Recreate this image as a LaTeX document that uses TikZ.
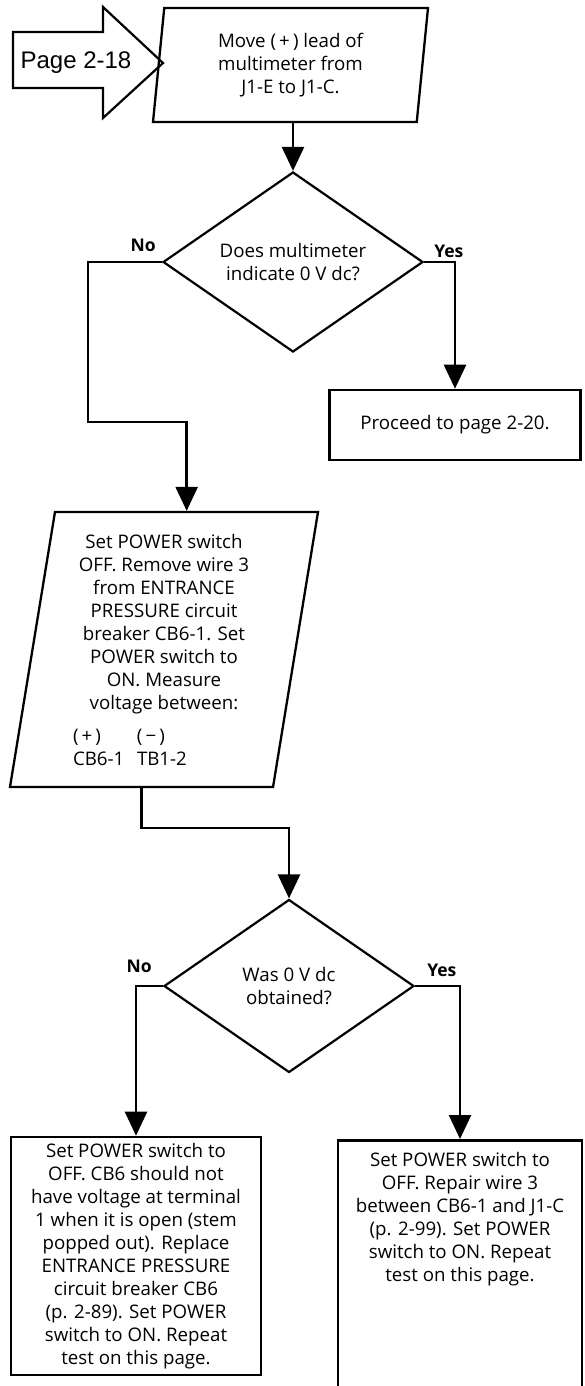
\documentclass[tikz,border=0pt]{standalone}
\usepackage{fontspec}
\setmainfont{Open Sans}
\newfontfamily\pagefont{Liberation Sans}
\usetikzlibrary{arrows.meta, positioning, shapes.geometric}

\tikzset{
  flow/.style={line width=2.6pt, -{Triangle[length=24pt,width=22pt]}},
  textfont/.style={font=\fontsize{18.7}{23}\selectfont},
  stepbox/.style={draw, line width=2.6pt, align=center, inner sep=0pt, textfont},
  slanted/.style={draw, trapezium, trapezium stretches body, line width=2.3pt, align=center, inner sep=0pt, textfont},
  query/.style={draw, diamond, aspect=1.44, line width=2.2pt, align=center, inner sep=0pt, textfont},
  answer/.style={inner sep=0pt, font=\bfseries\fontsize{17.5}{20}\selectfont},
}

\begin{document}
\begin{tikzpicture}[x=1pt, y=-1pt]
  \useasboundingbox (0,0) rectangle (584,1386);
  % arrow coming in from the previous page
  \draw[line width=2.2pt] (13,32) -- (103,32) -- (103,7) -- (163,63) -- (103,118) -- (103,88) -- (13,88) -- cycle;
  \node[font=\pagefont\fontsize{24}{28}\selectfont, inner sep=0pt] (from) at (76,63) {Page 2-18};

  \node[slanted, trapezium left angle=80, trapezium right angle=100, minimum width=275pt, minimum height=114pt] (move) at (290.5,65)
    {Move (\,+\,) lead of\\multimeter from\\J1-E to J1-C.};
  \node[query, minimum width=260pt, minimum height=180pt] (ask1) at (293,262)
    {Does multimeter\\indicate 0 V dc?};
  \node[stepbox, minimum width=251pt, minimum height=70pt] (proceed) at (455,425)
    {Proceed to page 2-20.};
  \node[slanted, trapezium left angle=79, trapezium right angle=101, minimum width=308pt, minimum height=275pt] (check) at (164,649.5)
    {Set POWER switch\\OFF. Remove wire 3\\from ENTRANCE\\PRESSURE circuit\\breaker CB6-1. Set\\POWER switch to\\ON. Measure\\voltage between:\\[10pt]
     \hspace*{-68pt}\makebox[114pt][l]{\makebox[64pt][l]{(\,+\,)}(\,−\,)}\\
     \hspace*{-68pt}\makebox[114pt][l]{\makebox[64pt][l]{CB6-1}TB1-2}};
  \node[query, minimum width=250pt, minimum height=173pt] (ask2) at (289,986)
    {Was 0 V dc\\obtained?};
  \node[stepbox, minimum width=250pt, minimum height=238pt] (replace) at (136,1256)
    {Set POWER switch to\\OFF. CB6 should not\\have voltage at terminal\\1 when it is open (stem\\popped out). Replace\\ENTRANCE PRESSURE\\circuit breaker CB6\\(p. 2-89). Set POWER\\switch to ON. Repeat\\test on this page.};
  \node[stepbox, anchor=north, minimum width=244pt, inner ysep=12pt, text depth=250pt] (repair) at (460,1139)
    {Set POWER switch to\\OFF. Repair wire 3\\between CB6-1 and J1-C\\(p. 2-99). Set POWER\\switch to ON. Repeat\\test on this page.};

  % answers
  \node[answer, above left=10pt and 6pt of ask1.west] (no1) {No};
  \node[answer, above right=4pt and 10pt of ask1.east] (yes1) {Yes};
  \node[answer, above left=13pt and 11pt of ask2.west] (no2) {No};
  \node[answer, above right=9pt and 12pt of ask2.east] (yes2) {Yes};

  \coordinate (nobend) at (88,422);
  \draw[flow] (move.bottom side -| ask1.north) -- (ask1.north);
  \draw[flow] (ask1.east) -| (proceed.north);
  \draw[flow] (ask1.west) -| (nobend) -| (check.top side);
  \draw[flow] (check.bottom side) -- ++(0,40) -| (ask2.north);
  \draw[flow] (ask2.west) -| (replace.north);
  \draw[flow] (ask2.east) -| (repair.north);
\end{tikzpicture}
\end{document}
